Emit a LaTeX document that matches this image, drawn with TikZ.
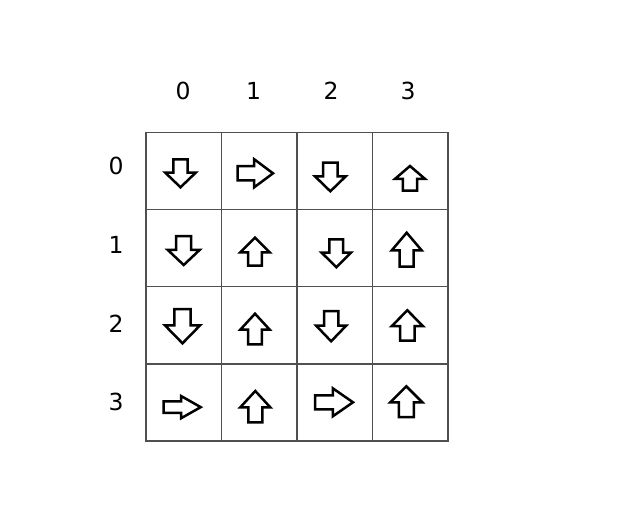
\documentclass[tikz,border=0pt]{standalone}
\usepackage{fontspec}
\setmainfont{DejaVu Sans}
\definecolor{gridc}{HTML}{505050}
\tikzset{
  cellbox/.style={draw=gridc,line width=1.5pt,minimum width=75.5pt,minimum height=77.1pt,inner sep=0pt,outer sep=0pt},
  lbl/.style={font=\fontsize{23.5}{26}\selectfont,anchor=base,inner sep=0pt},
  arr/.style={draw=black,line width=2.5pt,fill=white,line join=miter}
}
\newcommand\arrD[4]{%
  \pgfmathsetmacro\cx{(#1+#2)/2}\pgfmathsetmacro\sw{0.22*(#2-#1)}\pgfmathsetmacro\ym{#3+0.48*(#4-#3)}%
  \draw[arr] (\cx-\sw,#3+1) -- (\cx+\sw,#3+1) -- (\cx+\sw,\ym) -- (#2-1,\ym) -- (\cx,#4-1) -- (#1+1,\ym) -- (\cx-\sw,\ym) -- cycle;}
\newcommand\arrU[4]{%
  \pgfmathsetmacro\cx{(#1+#2)/2}\pgfmathsetmacro\sw{0.22*(#2-#1)}\pgfmathsetmacro\ym{#3+0.52*(#4-#3)}%
  \draw[arr] (\cx-\sw,#4-1) -- (\cx+\sw,#4-1) -- (\cx+\sw,\ym) -- (#2-1,\ym) -- (\cx,#3+1) -- (#1+1,\ym) -- (\cx-\sw,\ym) -- cycle;}
\newcommand\arrR[4]{%
  \pgfmathsetmacro\cy{(#3+#4)/2}\pgfmathsetmacro\sw{0.235*(#4-#3)}\pgfmathsetmacro\xm{#1+0.47*(#2-#1)}%
  \draw[arr] (#1+1,\cy-\sw) -- (\xm,\cy-\sw) -- (\xm,#3+1) -- (#2-1,\cy) -- (\xm,#4-1) -- (\xm,\cy+\sw) -- (#1+1,\cy+\sw) -- cycle;}
\begin{document}
\begin{tikzpicture}[x=1pt,y=-1pt]
\useasboundingbox[fill=white] (0,0) rectangle (619,532);
% grid cells
\foreach \r/\yc in {0/171.05,1/248.15,2/325.25,3/402.35}{
  \foreach \c/\xc in {0/183.75,1/259.25,2/334.75,3/410.25}{
    \node[cellbox] (c\r\c) at (\xc,\yc) {};
  }
}
% column labels
\node[lbl] (h0) at (183,100) {0};
\node[lbl] (h1) at (253.5,100) {1};
\node[lbl] (h2) at (331,100) {2};
\node[lbl] (h3) at (408,100) {3};
% row labels
\node[lbl] (v0) at (116,175) {0};
\node[lbl] (v1) at (116,253.3) {1};
\node[lbl] (v2) at (116,332.7) {2};
\node[lbl] (v3) at (116,410.7) {3};
% row 0
\arrD{164.3}{196.7}{158.3}{188.3}
\arrR{236.7}{274}{158.3}{188.3}
\arrD{314}{346.7}{161.7}{192.3}
\arrU{394}{426}{165}{191.7}
% row 1
\arrD{166.7}{200.7}{235}{266}
\arrU{239.3}{270.7}{236.7}{266.7}
\arrD{320.7}{352}{238.3}{268.3}
\arrU{390.7}{422.7}{231.7}{267.7}
% row 2
\arrD{164}{201}{308}{344.3}
\arrU{239.3}{270.7}{312.7}{345.3}
\arrD{315}{347.3}{310}{342.3}
\arrU{390.7}{424}{309.3}{341.7}
% row 3
\arrR{162.7}{201.7}{395}{419.3}
\arrU{239.3}{271.3}{390}{423.3}
\arrR{314}{354}{387.3}{417.3}
\arrU{389.3}{423.3}{385.3}{418}
\end{tikzpicture}
\end{document}
